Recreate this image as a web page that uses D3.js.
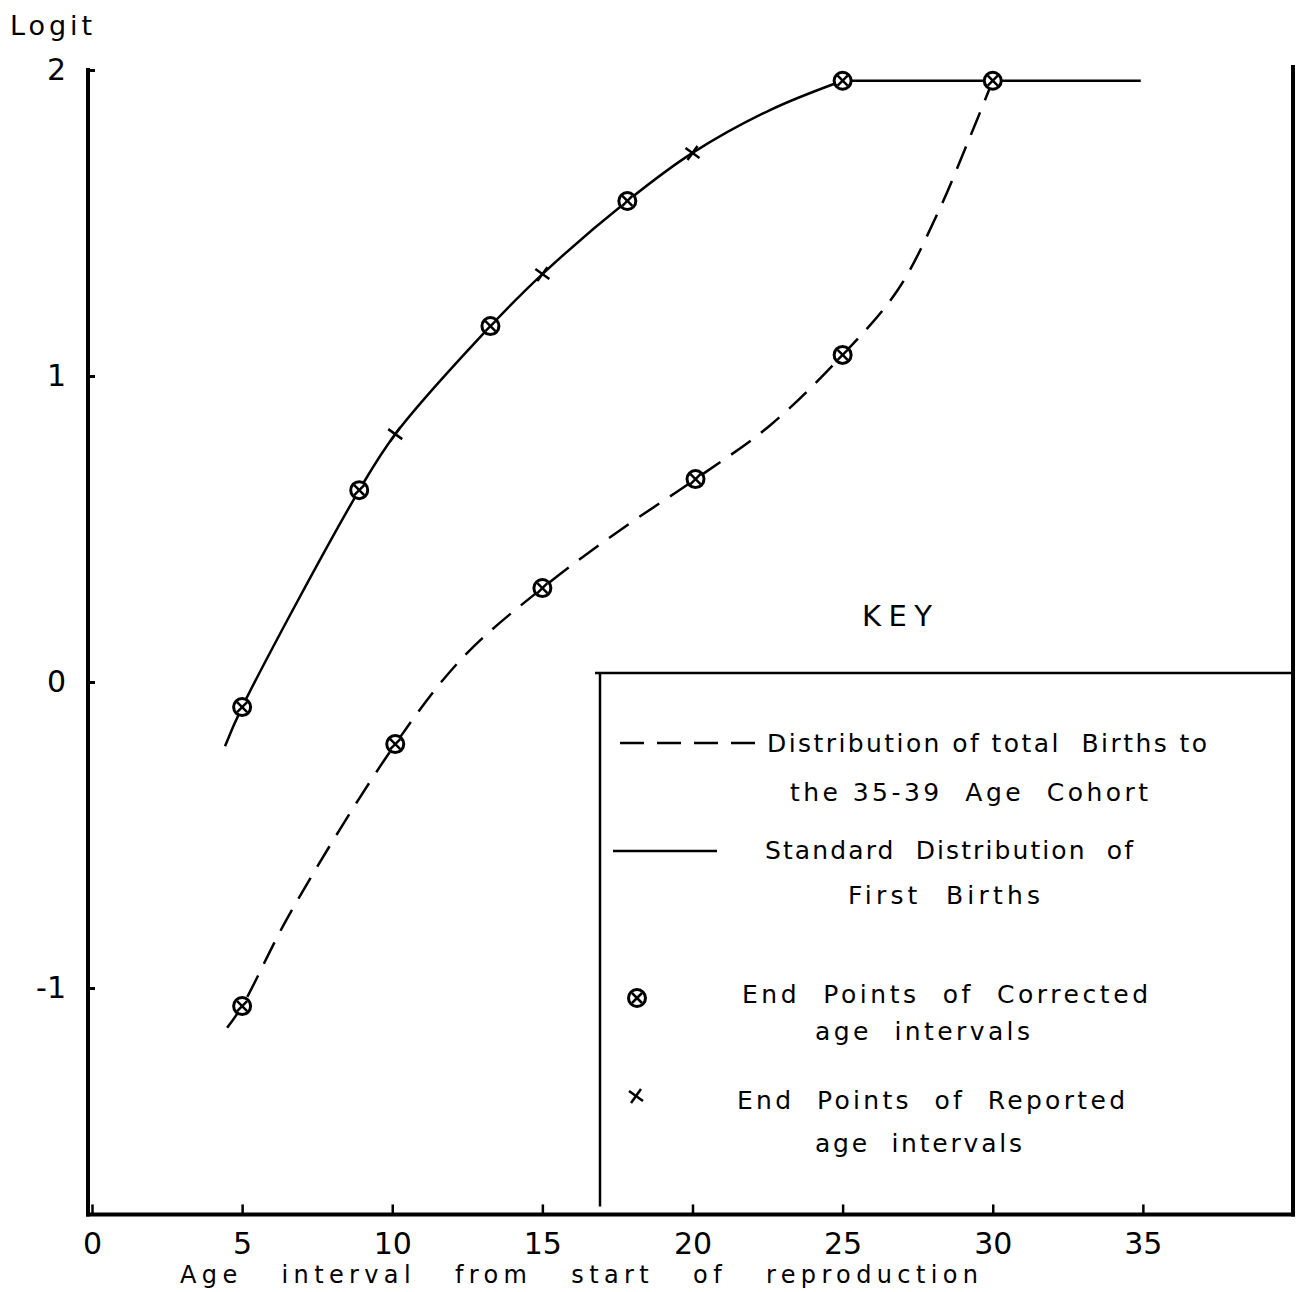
<!DOCTYPE html>
<html>
  <head>
    <meta charset="utf-8">
    <title>Logit of birth distributions</title>
    <script src="https://d3js.org/d3.v7.min.js"></script>
    <style>
      body { margin: 0; background: white; }
      svg { font-family: "DejaVu Sans", sans-serif; }
      .axis path, .axis line { stroke: black; }
      .axis text { font-size: 30px; fill: black; font-family: "DejaVu Sans", sans-serif; }
      .curve { fill: none; stroke: black; stroke-width: 2.5px; }
      .dashed { stroke-dasharray: 24, 13; }
      .marker circle { fill: white; stroke: black; stroke-width: 3px; }
      .marker line, .cross line { stroke: black; stroke-width: 2.5px; }
      .frame { stroke: black; stroke-width: 4px; fill: none; }
      .key { stroke: black; stroke-width: 2.5px; fill: none; }
      .label { font-size: 25px; fill: black; }
    </style>
  </head>
  <body>
    <svg id="chart" width="1311" height="1292"></svg>
    <script>
      // chart data (age interval, logit)
      var xTicks = [0, 5, 10, 15, 20, 25, 30, 35];
      var yTicks = [-1, 0, 1, 2];
      // standard distribution of first births (solid)
      var standardCurve = [[4.43, -0.21], [5, -0.082], [8.9, 0.627], [10.1, 0.81], [13.27, 1.163],
        [15, 1.333], [17.83, 1.572], [20, 1.729], [22.6, 1.87], [25, 1.965], [30, 1.965], [34.93, 1.965]];
      // distribution of total births to the 35-39 cohort (dashed)
      var totalCurve = [[4.5, -1.13], [5, -1.059], [6.6, -0.755], [10.1, -0.203], [12.37, 0.082],
        [15, 0.307], [17.6, 0.497], [20.1, 0.663], [22.6, 0.84], [25, 1.069],
        [26.83, 1.28], [28.17, 1.533], [29.2, 1.771], [30, 1.965]];
      // end points of corrected age intervals
      var correctedPoints = [[5, -0.082], [8.9, 0.627], [13.27, 1.163], [17.83, 1.572], [25, 1.965], [30, 1.965],
        [5, -1.059], [10.1, -0.203], [15, 0.307], [20.1, 0.663], [25, 1.069]];
      // end points of reported age intervals
      var reportedPoints = [[10.1, 0.81], [15, 1.333], [20, 1.729]];

      var svg = d3.select("#chart");
      var x = d3.scaleLinear().domain([0, 40]).range([92, 1293]);
      var y = d3.scaleLinear().domain([-1, 2]).range([988, 70]);
      var yMin = -1.74;

      // axes
      var xAxis = d3.axisBottom(x)
        .tickValues(xTicks)
        .tickSizeInner(-10)
        .tickSizeOuter(0)
        .tickPadding(14);
      var gx = svg.append("g")
        .attr("class", "axis")
        .attr("transform", "translate(0," + y(yMin) + ")")
        .call(xAxis);
      gx.select(".domain").remove();
      gx.selectAll("line").attr("stroke-width", 2.5);
      gx.selectAll("text").attr("dy", "0.85em");

      var yAxis = d3.axisLeft(y)
        .tickValues(yTicks)
        .tickSizeInner(-7)
        .tickSizeOuter(0)
        .tickPadding(22)
        .tickFormat(function(d) { return d < 0 ? "-" + Math.abs(d) : d; });
      var gy = svg.append("g")
        .attr("class", "axis")
        .attr("transform", "translate(" + (x(0) - 4) + ",0)")
        .call(yAxis);
      gy.select(".domain").remove();
      gy.selectAll("line").attr("stroke-width", 3);

      // frame
      svg.append("line").attr("class", "frame")
        .attr("x1", x(0) - 4).attr("x2", x(0) - 4).attr("y1", y(2) - 2).attr("y2", y(yMin) + 2);
      svg.append("line").attr("class", "frame")
        .attr("x1", x(0) - 6).attr("x2", x(40) + 2).attr("y1", y(yMin)).attr("y2", y(yMin));
      svg.append("line").attr("class", "frame")
        .attr("x1", x(40)).attr("x2", x(40)).attr("y1", y(2) - 5).attr("y2", y(yMin) + 2);

      svg.append("text")
        .attr("class", "label")
        .attr("x", 10).attr("y", 35)
        .attr("textLength", 82).attr("lengthAdjust", "spacing")
        .style("font-size", "27px")
        .text("Logit");

      svg.append("text")
        .attr("class", "label")
        .attr("x", 180).attr("y", 1283)
        .attr("textLength", 798).attr("lengthAdjust", "spacing")
        .style("font-size", "24px")
        .style("word-spacing", "26px")
        .text("Age interval from start of reproduction");

      // curves: smooth rise, then the flat run at the top of the standard curve
      var line = d3.line()
        .x(function(d) { return x(d[0]); })
        .y(function(d) { return y(d[1]); })
        .curve(d3.curveCatmullRom.alpha(0.5));
      var flat = d3.line()
        .x(function(d) { return x(d[0]); })
        .y(function(d) { return y(d[1]); });
      svg.append("path").datum(standardCurve.filter(function(d) { return d[0] <= 25; }))
        .attr("class", "curve").attr("d", line);
      svg.append("path").datum(standardCurve.filter(function(d) { return d[0] >= 25; }))
        .attr("class", "curve").attr("d", flat);
      svg.append("path").datum(totalCurve).attr("class", "curve dashed").attr("d", line);

      function drawCircle(g, cx, cy) {
        var m = g.append("g").attr("class", "marker").attr("transform", "translate(" + cx + "," + cy + ")");
        m.append("circle").attr("r", 8.5);
        m.append("line").attr("x1", -5).attr("y1", -5).attr("x2", 5).attr("y2", 5);
        m.append("line").attr("x1", -5).attr("y1", 5).attr("x2", 5).attr("y2", -5);
      }
      function drawCross(g, cx, cy) {
        var m = g.append("g").attr("class", "cross").attr("transform", "translate(" + cx + "," + cy + ")");
        m.append("line").attr("x1", -7).attr("y1", -5).attr("x2", 7).attr("y2", 5);
        m.append("line").attr("x1", -5).attr("y1", 7).attr("x2", 5).attr("y2", -7);
      }
      correctedPoints.forEach(function(d) { drawCircle(svg, x(d[0]), y(d[1])); });
      reportedPoints.forEach(function(d) { drawCross(svg, x(d[0]), y(d[1])); });

      // key
      svg.append("text")
        .attr("class", "label")
        .attr("x", 862).attr("y", 626)
        .attr("textLength", 70).attr("lengthAdjust", "spacing")
        .style("font-size", "29px")
        .text("KEY");
      svg.append("line").attr("class", "key")
        .attr("x1", 595).attr("x2", x(40)).attr("y1", 673).attr("y2", 673);
      svg.append("line").attr("class", "key")
        .attr("x1", 600).attr("x2", 600).attr("y1", 673).attr("y2", y(yMin) - 8);

      svg.append("line").attr("class", "curve dashed")
        .attr("x1", 620).attr("x2", 758).attr("y1", 743).attr("y2", 743);
      svg.append("line").attr("class", "curve")
        .attr("x1", 613).attr("x2", 717).attr("y1", 851).attr("y2", 851);
      drawCircle(svg, 637, 998);
      drawCross(svg, 636, 1096);

      var keyText = [
        ["Distribution of total  Births to", 767, 752, 440],
        ["the 35-39  Age  Cohort", 790, 801, 358],
        ["Standard  Distribution  of", 765, 859, 368],
        ["First  Births", 848, 904, 192],
        ["End  Points  of  Corrected", 742, 1003, 406],
        ["age  intervals", 815, 1040, 215],
        ["End  Points  of  Reported", 737, 1109, 388],
        ["age  intervals", 815, 1152, 207]
      ];
      svg.selectAll(".keytext")
        .data(keyText)
        .enter().append("text")
          .attr("class", "label keytext")
          .attr("x", function(d) { return d[1]; })
          .attr("y", function(d) { return d[2]; })
          .attr("textLength", function(d) { return d[3]; })
          .attr("lengthAdjust", "spacing")
          .style("white-space", "pre")
          .text(function(d) { return d[0]; });
    </script>
  </body>
</html>
